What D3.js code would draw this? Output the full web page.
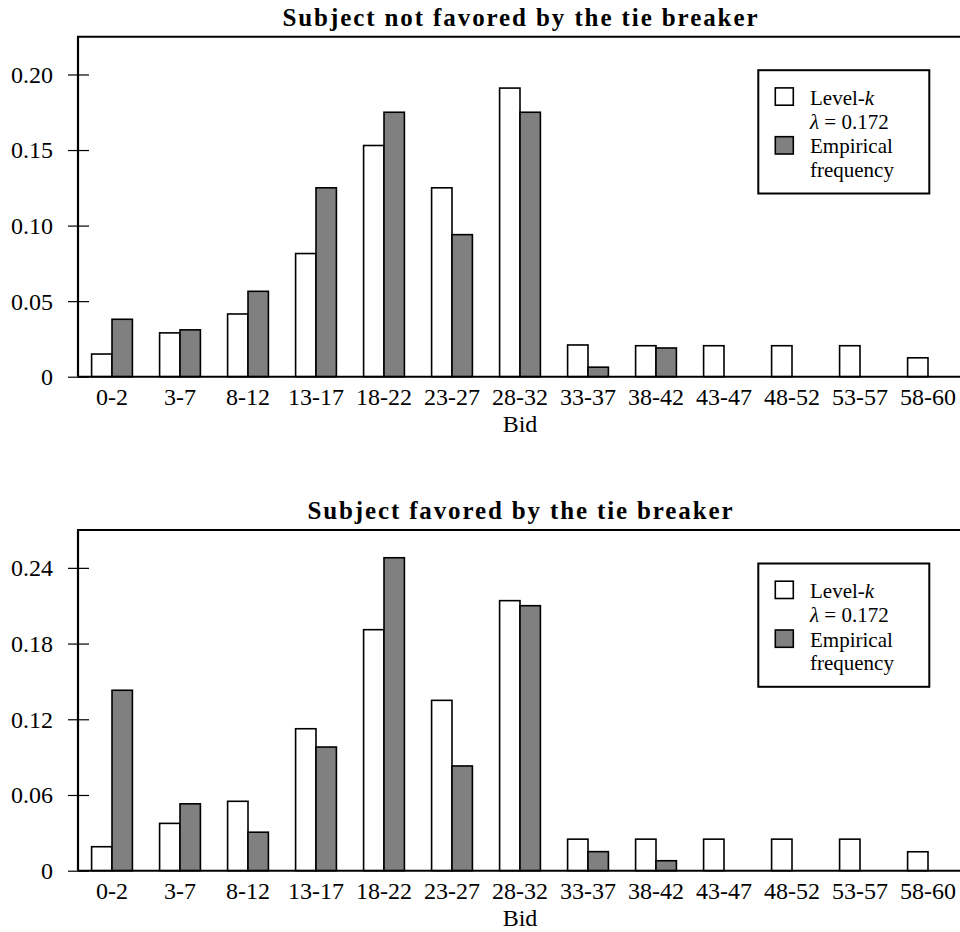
<!DOCTYPE html>
<html>
<head>
<meta charset="utf-8">
<script src="https://cdn.jsdelivr.net/npm/d3@7"></script>
<style>
  html, body { margin: 0; padding: 0; background: #fff; }
  svg { display: block; }
  text { font-family: "Liberation Serif", "Times New Roman", serif; fill: #000; }
</style>
</head>
<body>
<svg id="chart" width="960" height="932"></svg>
<script>
// ---------- data ----------
const categories = ["0-2","3-7","8-12","13-17","18-22","23-27","28-32","33-37","38-42","43-47","48-52","53-57","58-60"];
const seriesNames = ["Level-k", "Empirical"];

const notFavoredLevelK   = [0.015, 0.029, 0.0415, 0.0815, 0.153, 0.125, 0.191, 0.021, 0.0205, 0.0205, 0.0205, 0.0205, 0.0125];
const notFavoredEmpirical = [0.038, 0.031, 0.0565, 0.125, 0.175, 0.094, 0.175, 0.0063, 0.019, 0, 0, 0, 0];

const favoredLevelK   = [0.019, 0.0375, 0.055, 0.1125, 0.191, 0.135, 0.214, 0.025, 0.025, 0.025, 0.025, 0.025, 0.015];
const favoredEmpirical = [0.143, 0.053, 0.0305, 0.098, 0.248, 0.083, 0.210, 0.0151, 0.0079, 0, 0, 0, 0];

const topTicks = [0, 0.05, 0.10, 0.15, 0.20];
const topTickLabels = ["0", "0.05", "0.10", "0.15", "0.20"];
const bottomTicks = [0, 0.06, 0.12, 0.18, 0.24];
const bottomTickLabels = ["0", "0.06", "0.12", "0.18", "0.24"];

const panels = [
  { title: "Subject not favored by the tie breaker", levelK: notFavoredLevelK, empirical: notFavoredEmpirical,
    yMax: 0.225, ticks: topTicks, tickLabels: topTickLabels, top: 36.7, bottom: 376.7 },
  { title: "Subject favored by the tie breaker", levelK: favoredLevelK, empirical: favoredEmpirical,
    yMax: 0.27, ticks: bottomTicks, tickLabels: bottomTickLabels, top: 530, bottom: 870.7 }
];

// ---------- layout ----------
const svg = d3.select("#chart");
const left = 78, right = 962;
const colors = { "Level-k": "#ffffff", "Empirical": "#808080" };

const x = d3.scaleBand().domain(categories).range([left, right]).paddingInner(0.4).paddingOuter(0.2);
const xs = d3.scaleBand().domain(seriesNames).range([0, x.bandwidth()]);

panels.forEach(p => {
  const g = svg.append("g");
  const y = d3.scaleLinear().domain([0, p.yMax]).range([p.bottom, p.top]);

  const rows = categories.map((c, i) => ({ cat: c, vals: [
    { s: "Level-k", v: p.levelK[i] }, { s: "Empirical", v: p.empirical[i] }
  ]}));

  // bars
  const cg = g.selectAll("g.cat").data(rows).join("g").attr("class", "cat")
    .attr("transform", d => `translate(${x(d.cat)},0)`);
  cg.selectAll("rect").data(d => d.vals.filter(v => v.v > 0)).join("rect")
    .attr("x", d => xs(d.s))
    .attr("y", d => y(d.v))
    .attr("width", xs.bandwidth())
    .attr("height", d => y(0) - y(d.v))
    .attr("fill", d => colors[d.s])
    .attr("stroke", "#000")
    .attr("stroke-width", 1.6);

  // y axis
  const yAxis = d3.axisLeft(y).tickValues(p.ticks)
    .tickFormat((d, i) => p.tickLabels[i])
    .tickSizeInner(10).tickSizeOuter(0).tickPadding(15);
  const ya = g.append("g").attr("transform", `translate(${left},0)`).call(yAxis);
  ya.select(".domain").remove();
  ya.selectAll(".tick line").attr("x1", 11).attr("x2", -10).attr("stroke", "#000").attr("stroke-width", 1.2);
  ya.selectAll(".tick text").attr("font-size", 24).attr("font-family", "Liberation Serif, serif").attr("dy", "0.33em");

  // x axis labels
  const xAxis = d3.axisBottom(x).tickSize(0).tickPadding(0);
  const xa = g.append("g").attr("transform", `translate(0,${p.bottom})`).call(xAxis);
  xa.select(".domain").remove();
  xa.selectAll(".tick text").attr("font-size", 24).attr("font-family", "Liberation Serif, serif")
    .attr("dy", null).attr("y", 28.5);

  // spines
  g.append("line").attr("x1", left).attr("x2", left).attr("y1", p.top).attr("y2", p.bottom)
    .attr("stroke", "#000").attr("stroke-width", 2.2);
  g.append("line").attr("x1", left - 1).attr("x2", right).attr("y1", p.top).attr("y2", p.top)
    .attr("stroke", "#000").attr("stroke-width", 2);
  g.append("line").attr("x1", left).attr("x2", right).attr("y1", p.bottom).attr("y2", p.bottom)
    .attr("stroke", "#000").attr("stroke-width", 2);

  // title
  g.append("text").attr("x", (left + right) / 2).attr("y", p.top - 11)
    .attr("text-anchor", "middle").attr("font-weight", "bold").attr("font-size", 25)
    .attr("textLength", p.title.length * 12.5).attr("lengthAdjust", "spacing")
    .text(p.title);

  // x label
  g.append("text").attr("x", (left + right) / 2).attr("y", p.bottom + 55.5)
    .attr("text-anchor", "middle").attr("font-size", 24).text("Bid");

  // legend
  const lx = 758.3, ly = p.top + 33.5;
  const lg = g.append("g").attr("transform", `translate(${lx},${ly})`);
  lg.append("rect").attr("width", 171).attr("height", 123.3).attr("fill", "#fff")
    .attr("stroke", "#000").attr("stroke-width", 2);
  lg.append("rect").attr("x", 17).attr("y", 17.7).attr("width", 18).attr("height", 17.3)
    .attr("fill", colors["Level-k"]).attr("stroke", "#000").attr("stroke-width", 1.6);
  lg.append("rect").attr("x", 17).attr("y", 66.5).attr("width", 18).attr("height", 17.3)
    .attr("fill", colors["Empirical"]).attr("stroke", "#000").attr("stroke-width", 1.6);
  const fs = 21, tx = 51.7;
  const t1 = lg.append("text").attr("x", tx).attr("y", 34.5).attr("font-size", fs);
  t1.append("tspan").text("Level-");
  t1.append("tspan").attr("font-style", "italic").text("k");
  const t2 = lg.append("text").attr("x", tx).attr("y", 58.5).attr("font-size", fs);
  t2.append("tspan").attr("font-style", "italic").text("λ");
  t2.append("tspan").text(" = 0.172");
  lg.append("text").attr("x", tx).attr("y", 83).attr("font-size", fs).text("Empirical");
  lg.append("text").attr("x", tx).attr("y", 106.5).attr("font-size", fs).text("frequency");
});
</script>
</body>
</html>
